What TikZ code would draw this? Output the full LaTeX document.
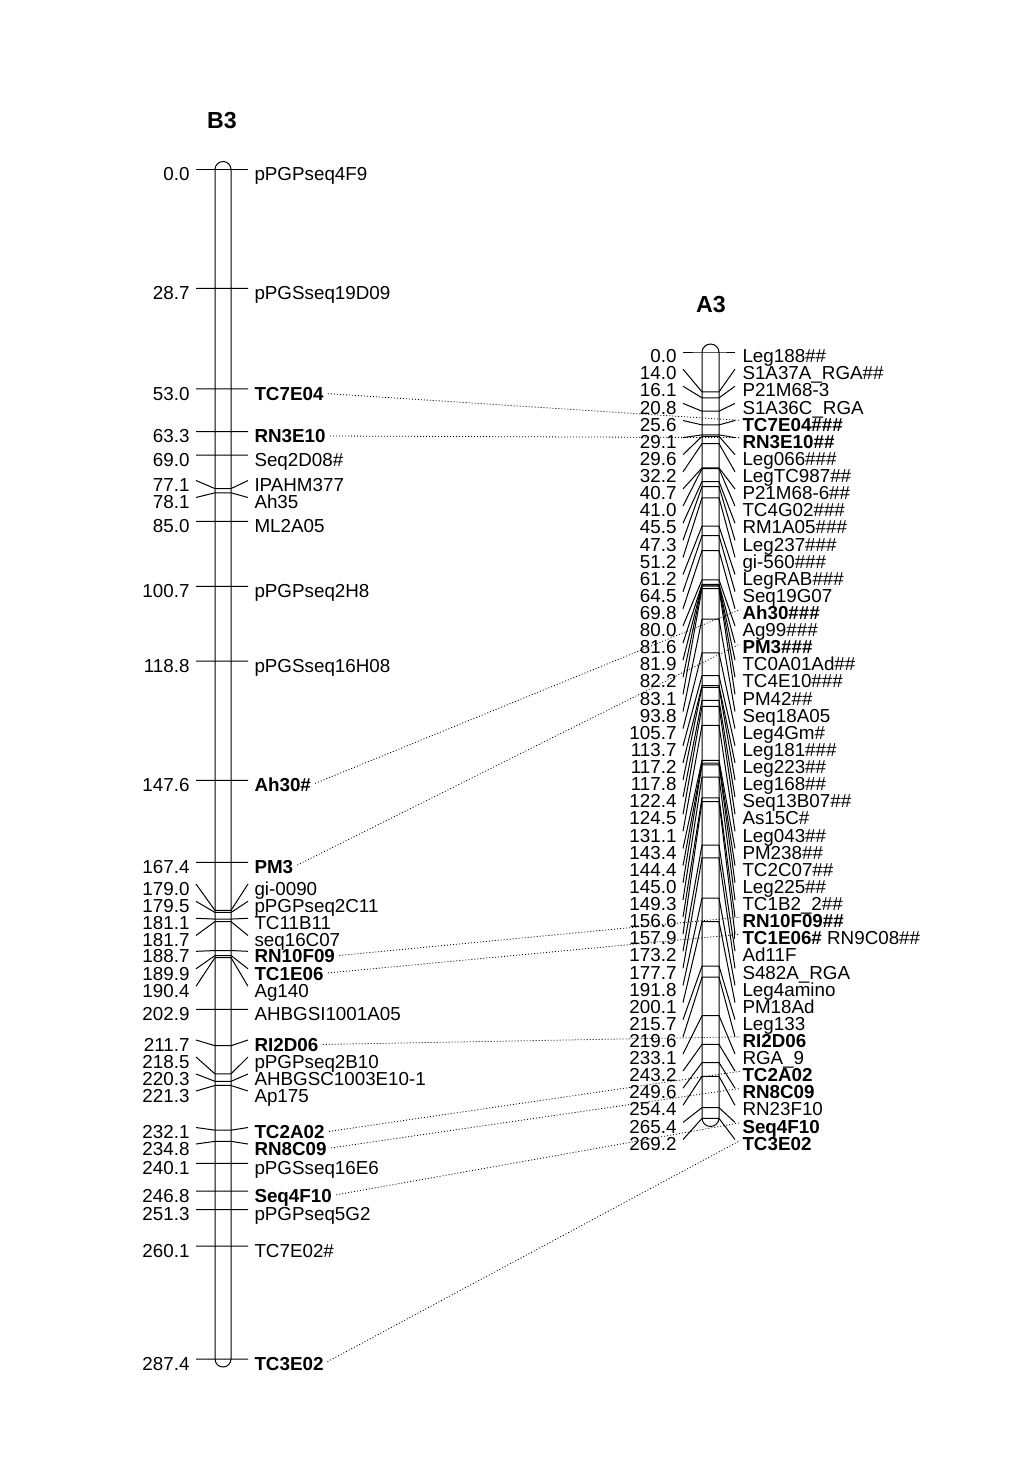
\documentclass[tikz,border=0pt]{standalone}
\usepackage{fontspec}
\setmainfont{Liberation Sans}
\begin{document}
\begin{tikzpicture}[x=0.5pt,y=-0.5pt,line width=0.5pt,
  lbl/.style={inner sep=0pt,text height=6.7pt,text depth=0pt,font=\fontsize{9.4pt}{9.4pt}\selectfont},
  ttl/.style={font=\bfseries\fontsize{11.6pt}{11.6pt}\selectfont},
  link/.style={line width=0.4pt,dash pattern=on 0.5pt off 1pt,shorten <=2pt,shorten >=1pt}]
  \useasboundingbox (0,0) rectangle (1024,1479);
  \node[ttl] (b3) at (222,121) {B3};
  \node[ttl] (a3) at (711,305) {A3};
  \draw[rounded corners=4pt] (215,161.5) rectangle (231,1367);
  \draw[rounded corners=4.25pt] (702,344) rectangle (719,1126.5);
  \foreach \i/\c/\t/\s in {0/0.0/169.5/pPGPseq4F9, 1/28.7/288.3/pPGSseq19D09,
      2/53.0/388.9/\textbf{TC7E04}, 3/63.3/431.5/\textbf{RN3E10}, 4/69.0/455.1/Seq2D08\#,
      5/77.1/480.5/IPAHM377, 6/78.1/497.5/Ah35, 7/85.0/521.3/ML2A05,
      8/100.7/586.3/pPGPseq2H8, 9/118.8/661.2/pPGSseq16H08, 10/147.6/780.4/\textbf{Ah30\#},
      11/167.4/862.4/\textbf{PM3}, 12/179.0/884.0/gi-0090, 13/179.5/901.3/pPGPseq2C11,
      14/181.1/918.3/TC11B11, 15/181.7/935.5/seq16C07, 16/188.7/951.3/\textbf{RN10F09},
      17/189.9/968.8/\textbf{TC1E06}, 18/190.4/986.3/Ag140, 19/202.9/1009.3/AHBGSI1001A05,
      20/211.7/1040.0/\textbf{RI2D06}, 21/218.5/1057.0/pPGPseq2B10,
      22/220.3/1074.0/AHBGSC1003E10-1, 23/221.3/1091.0/Ap175, 24/232.1/1127.5/\textbf{TC2A02},
      25/234.8/1144.0/\textbf{RN8C09}, 26/240.1/1163.3/pPGSseq16E6,
      27/246.8/1191.0/\textbf{Seq4F10}, 28/251.3/1209.6/pPGPseq5G2, 29/260.1/1246.1/TC7E02\#,
      30/287.4/1359.0/\textbf{TC3E02}} {
    \draw (196,\t) -- (215,169.5+4.139*\c) -- (231,169.5+4.139*\c) -- (248,\t);
    \node[lbl,anchor=east] (b3n\i) at (190,\t+4.5) {\c};
    \node[lbl,anchor=west] (b3m\i) at (254,\t+4.5) {\s};
  }
  \foreach \i/\c/\s in {0/0.0/Leg188\#\#, 1/14.0/S1A37A\_RGA\#\#, 2/16.1/P21M68-3,
      3/20.8/S1A36C\_RGA, 4/25.6/\textbf{TC7E04\#\#\#}, 5/29.1/\textbf{RN3E10\#\#},
      6/29.6/Leg066\#\#\#, 7/32.2/LegTC987\#\#, 8/40.7/P21M68-6\#\#, 9/41.0/TC4G02\#\#\#,
      10/45.5/RM1A05\#\#\#, 11/47.3/Leg237\#\#\#, 12/51.2/gi-560\#\#\#, 13/61.2/LegRAB\#\#\#,
      14/64.5/Seq19G07, 15/69.8/\textbf{Ah30\#\#\#}, 16/80.0/Ag99\#\#\#,
      17/81.6/\textbf{PM3\#\#\#}, 18/81.9/TC0A01Ad\#\#, 19/82.2/TC4E10\#\#\#, 20/83.1/PM42\#\#,
      21/93.8/Seq18A05, 22/105.7/Leg4Gm\#, 23/113.7/Leg181\#\#\#, 24/117.2/Leg223\#\#,
      25/117.8/Leg168\#\#, 26/122.4/Seq13B07\#\#, 27/124.5/As15C\#, 28/131.1/Leg043\#\#,
      29/143.4/PM238\#\#, 30/144.4/TC2C07\#\#, 31/145.0/Leg225\#\#, 32/149.3/TC1B2\_2\#\#,
      33/156.6/\textbf{RN10F09\#\#}, 34/157.9/\textbf{TC1E06\#} RN9C08\#\#, 35/173.2/Ad11F,
      36/177.7/S482A\_RGA, 37/191.8/Leg4amino, 38/200.1/PM18Ad, 39/215.7/Leg133,
      40/219.6/\textbf{RI2D06}, 41/233.1/RGA\_9, 42/243.2/\textbf{TC2A02},
      43/249.6/\textbf{RN8C09}, 44/254.4/RN23F10, 45/265.4/\textbf{Seq4F10},
      46/269.2/\textbf{TC3E02}} {
    \pgfmathsetmacro\t{352+17.12*\i}
    \draw (683,\t) -- (702,352+2.847*\c) -- (719,352+2.847*\c) -- (735,\t);
    \node[lbl,anchor=east] (a3n\i) at (677,\t+4) {\c};
    \node[lbl,anchor=west] (a3m\i) at (742,\t+4) {\s};
  }
  \draw (734.5,929) -- (734.5,939);
  \foreach \p/\q in {2/4,3/5,10/15,11/17,16/33,17/34,20/40,24/42,25/43,27/45,30/46}
    \draw[link] (b3m\p.east) -- ([yshift=2pt]a3m\q.west);
\end{tikzpicture}
\end{document}
